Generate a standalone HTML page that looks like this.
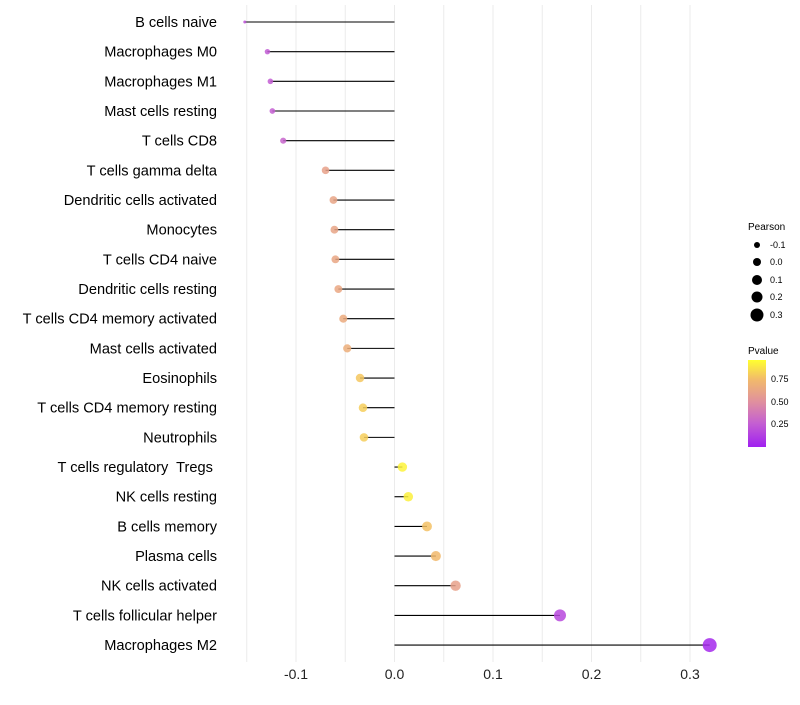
<!DOCTYPE html>
<html><head><meta charset="utf-8"><style>
body{margin:0;background:#fff;font-family:"Liberation Sans",sans-serif}
</style></head><body>
<svg id="chart" width="800" height="700" xmlns="http://www.w3.org/2000/svg">
<defs><linearGradient id="pg" x1="0" y1="1" x2="0" y2="0">
<stop offset="0" stop-color="#a020f0"/><stop offset="0.27" stop-color="#c45fd2"/><stop offset="0.52" stop-color="#e0909e"/><stop offset="0.78" stop-color="#f2bb6a"/><stop offset="1" stop-color="#ffff30"/>
</linearGradient></defs>
<g id="grid"></g><g id="marks"></g><g id="labels"></g>
<g font-size="9" fill="#000">
<text x="748" y="230" font-size="10">Pearson</text>
<circle cx="757" cy="245" r="3"/><text x="770" y="248">-0.1</text>
<circle cx="757" cy="262" r="4"/><text x="770" y="265">0.0</text>
<circle cx="757" cy="280" r="5"/><text x="770" y="283">0.1</text>
<circle cx="757" cy="297" r="5.5"/><text x="770" y="300">0.2</text>
<circle cx="757" cy="315" r="6.5"/><text x="770" y="318">0.3</text>
</g>
<g font-size="9">
<text x="748" y="354" font-size="10">Pvalue</text>
<rect x="748" y="360" width="18" height="87" fill="url(#pg)"/>
<text x="771" y="382">0.75</text><text x="771" y="405">0.50</text><text x="771" y="427">0.25</text>
</g>
</svg>
<script>
const cells=["B cells naive","Macrophages M0","Macrophages M1","Mast cells resting","T cells CD8","T cells gamma delta","Dendritic cells activated","Monocytes","T cells CD4 naive","Dendritic cells resting","T cells CD4 memory activated","Mast cells activated","Eosinophils","T cells CD4 memory resting","Neutrophils","T cells regulatory  Tregs ","NK cells resting","B cells memory","Plasma cells","NK cells activated","T cells follicular helper","Macrophages M2"];
const pearson=[-0.152,-0.129,-0.126,-0.124,-0.113,-0.070,-0.062,-0.061,-0.060,-0.057,-0.052,-0.048,-0.035,-0.032,-0.031,0.008,0.014,0.033,0.042,0.062,0.168,0.320];
const pvalue=[0.22,0.25,0.26,0.27,0.30,0.62,0.64,0.64,0.65,0.66,0.68,0.70,0.82,0.84,0.84,0.96,0.95,0.80,0.77,0.62,0.17,0.04];
const xTicks=[-0.1,0,0.1,0.2,0.3];
const ns="http://www.w3.org/2000/svg";
const x=v=>394.5+v*985;
const y=i=>22+i*29.67;
const r=v=>1.5+5.5*Math.sqrt(Math.max(0,(v+0.152)/0.472));
const stops=[[0,[160,32,240]],[0.27,[196,95,210]],[0.52,[224,144,158]],[0.78,[242,187,106]],[1,[255,255,48]]];
function col(p){for(let k=1;k<stops.length;k++){if(p<=stops[k][0]){const a=stops[k-1],b=stops[k],t=(p-a[0])/(b[0]-a[0]);return"rgb("+a[1].map((c,j)=>Math.round(c+(b[1][j]-c)*t)).join(",")+")";}}return"rgb(255,255,48)";}
function mk(t,at,p){const e=document.createElementNS(ns,t);for(const k in at)e.setAttribute(k,at[k]);p.appendChild(e);return e;}
const grid=document.getElementById('grid'),marks=document.getElementById('marks'),labels=document.getElementById('labels');
for(let g=-0.15;g<=0.301;g+=0.05){const l=mk('line',{x1:x(g),x2:x(g),y1:5,y2:662,stroke:'#ebebeb','stroke-width':1},grid);

}
xTicks.forEach(t=>{const e=mk('text',{x:x(t),y:679,'text-anchor':'middle','font-size':14,fill:'#222'},labels);e.textContent=t.toFixed(1);

});
cells.forEach((c,i)=>{
const ln=mk('line',{x1:x(0),x2:x(pearson[i]),y1:y(i),y2:y(i),stroke:'#000','stroke-width':1.1},marks);


const pt=mk('circle',{cx:x(pearson[i]),cy:y(i),r:r(pearson[i]),fill:col(pvalue[i]),'fill-opacity':0.85},marks);


const t=mk('text',{x:217,y:y(i)+5,'text-anchor':'end','font-size':14.6,fill:'#000','xml:space':'preserve'},labels);t.setAttribute('style','white-space:pre');t.textContent=c;


});
</script>
</body></html>
